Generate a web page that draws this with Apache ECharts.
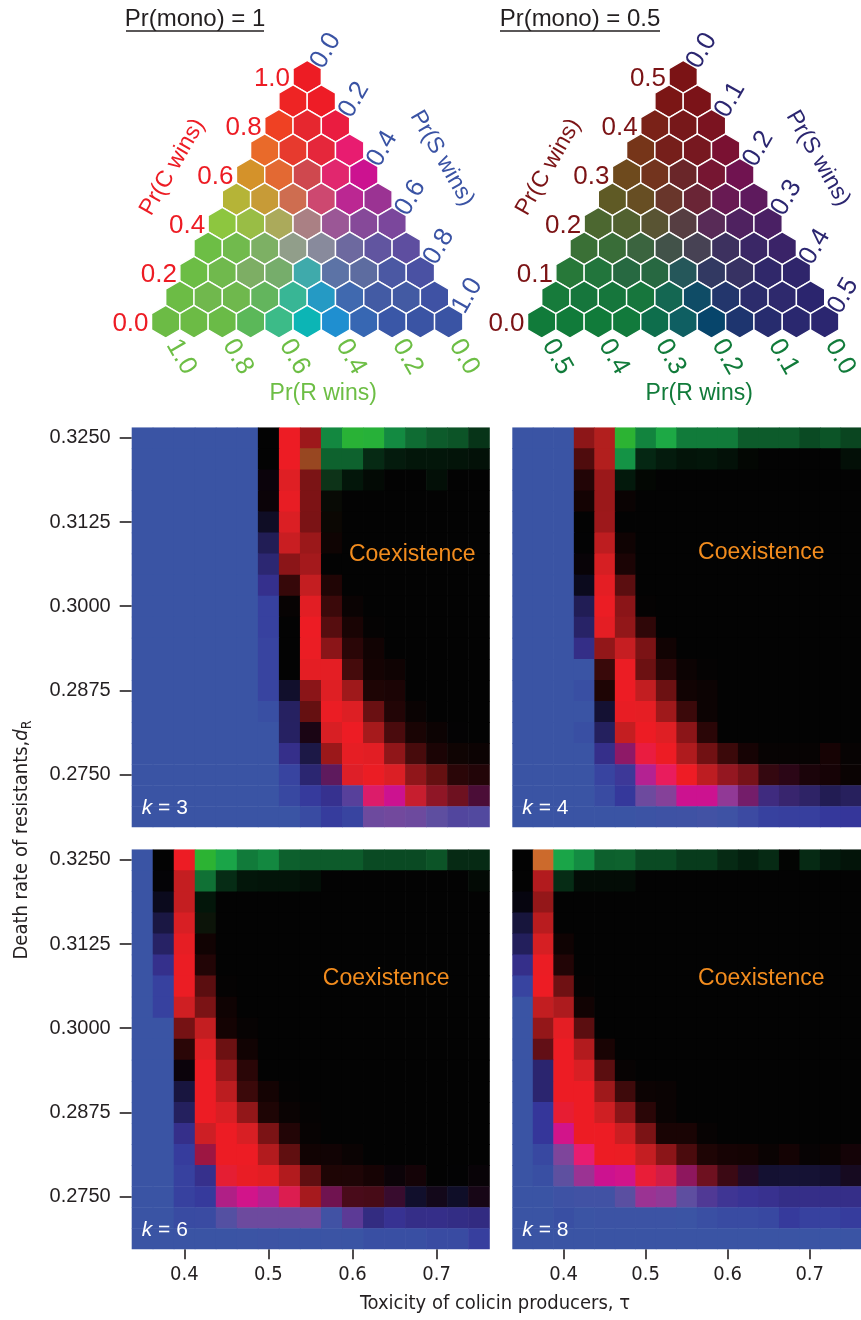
<!DOCTYPE html>
<html>
<head>
<meta charset="utf-8">
<script src="https://cdn.jsdelivr.net/npm/echarts@6/dist/echarts.min.js"></script>
<style>
  html, body { margin: 0; padding: 0; background: #ffffff; }
  #chart { width: 861px; height: 1320px; }
</style>
</head>
<body>
<div id="chart"></div>
<script>
// ---------------------------------------------------------------------------
// Parameter grid of the simulations
// ---------------------------------------------------------------------------
const tauValues = [0.350, 0.375, 0.400, 0.425, 0.450, 0.475, 0.500, 0.525, 0.550,
                   0.575, 0.600, 0.625, 0.650, 0.675, 0.700, 0.725, 0.750];
const deathValues = [0.325000, 0.321875, 0.318750, 0.315625, 0.312500, 0.309375,
                     0.306250, 0.303125, 0.300000, 0.296875, 0.293750, 0.290625,
                     0.287500, 0.284375, 0.281250, 0.278125, 0.275000, 0.271875, 0.268750];
const tauTicks = [0.4, 0.5, 0.6, 0.7];
const deathTicks = [0.2750, 0.2875, 0.3000, 0.3125, 0.3250];
const kValues = [3, 4, 6, 8];

// Ternary colour key
const ternarySteps = [0, 0.1, 0.2, 0.3, 0.4, 0.5, 0.6, 0.7, 0.8, 0.9, 1.0];
const ternaryTicks = [0, 0.2, 0.4, 0.6, 0.8, 1.0];
const monoLevels = [1, 0.5];

// ---------------------------------------------------------------------------
// Outcome probabilities (percent), rows from d_R = 0.325 (top) downwards,
// columns from tau = 0.35 (left) to 0.75.  C = colicin producer wins,
// R = resistant wins, S = sensitive wins; the remainder is coexistence.
// ---------------------------------------------------------------------------
const k3C = [
  [0,0,0,0,0,0,0,100,65,0,0,0,0,0,0,0,0],
  [0,0,0,0,0,0,0,100,45,0,0,0,0,0,0,0,0],
  [0,0,0,0,0,0,3,94,48,3,0,0,0,0,0,0,0],
  [0,0,0,0,0,0,3,98,51,2,0,0,0,0,0,0,0],
  [0,0,0,0,0,0,2,92,50,3,0,0,0,0,0,0,0],
  [0,0,0,0,0,0,0,84,64,5,0,0,0,0,0,0,0],
  [0,0,0,0,0,0,0,57,68,1,0,0,0,0,0,0,0],
  [0,0,0,0,0,0,0,22,82,13,0,0,0,0,0,0,0],
  [0,0,0,0,0,0,0,3,95,24,4,0,0,0,0,0,0],
  [0,0,0,0,0,0,0,0,100,35,10,2,0,0,0,0,0],
  [0,0,0,0,0,0,0,0,99,57,17,7,0,0,0,0,0],
  [0,0,0,0,0,0,0,0,96,96,28,8,6,0,0,0,0],
  [0,0,0,0,0,0,0,2,57,94,66,12,11,0,0,0,0],
  [0,0,0,0,0,0,0,3,41,99,93,43,14,4,0,0,0],
  [0,0,0,0,0,0,0,2,7,91,100,69,30,10,5,1,0],
  [0,0,0,0,0,0,0,0,3,64,97,95,59,29,11,5,5],
  [0,0,0,0,0,0,0,0,0,25,84,99,90,56,41,16,12],
  [0,0,0,0,0,0,0,0,0,0,28,66,60,70,47,35,20],
  [0,0,0,0,0,0,0,0,0,0,3,35,37,35,30,25,25]
];
const k3R = [
  [0,0,0,0,0,0,0,0,0,60,93,92,62,44,37,34,21],
  [0,0,0,0,0,0,0,0,20,40,40,17,11,9,9,8,7],
  [0,0,0,0,0,0,0,0,2,18,9,4,0,0,6,0,0],
  [0,0,0,0,0,0,0,0,0,3,0,0,0,0,0,0,0],
  [0,0,0,0,0,0,0,0,0,2,0,0,0,0,0,0,0],
  [0,0,0,0,0,0,0,0,0,1,0,0,0,0,0,0,0],
  [0,0,0,0,0,0,0,0,0,0,0,0,0,0,0,0,0],
  [0,0,0,0,0,0,0,0,0,0,0,0,0,0,0,0,0],
  [0,0,0,0,0,0,0,0,0,0,0,0,0,0,0,0,0],
  [0,0,0,0,0,0,0,0,0,0,0,0,0,0,0,0,0],
  [0,0,0,0,0,0,0,0,0,0,0,0,0,0,0,0,0],
  [0,0,0,0,0,0,0,0,0,0,0,0,0,0,0,0,0],
  [0,0,0,0,0,0,0,0,0,0,0,0,0,0,0,0,0],
  [0,0,0,0,0,0,0,0,0,0,0,0,0,0,0,0,0],
  [0,0,0,0,0,0,0,0,0,0,0,0,0,0,0,0,0],
  [0,0,0,0,0,0,0,0,0,0,0,0,0,0,0,1,0],
  [0,0,0,0,0,0,0,0,0,0,0,0,0,0,0,0,0],
  [0,0,0,0,0,0,0,0,0,0,0,0,0,0,0,0,0],
  [0,0,0,0,0,0,0,0,0,0,0,0,0,0,0,0,0]
];
const k3S = [
  [100,100,100,100,100,100,0,0,0,0,0,0,0,0,0,0,0],
  [100,100,100,100,100,100,0,0,0,0,0,0,0,0,0,0,0],
  [100,100,100,100,100,100,3,0,0,0,0,0,0,0,0,0,0],
  [100,100,100,100,100,100,2,0,0,0,0,0,0,0,0,0,0],
  [100,100,100,100,100,100,15,0,0,0,0,0,0,0,0,0,0],
  [100,100,100,100,100,100,38,0,0,0,0,0,0,0,0,0,0],
  [100,100,100,100,100,100,52,0,0,0,0,0,0,0,0,0,0],
  [100,100,100,100,100,100,78,0,0,0,0,0,0,0,0,0,0],
  [100,100,100,100,100,100,95,0,0,0,0,0,0,0,0,0,0],
  [100,100,100,100,100,100,95,0,0,0,0,0,0,0,0,0,0],
  [100,100,100,100,100,100,96,0,0,0,0,0,0,0,0,0,0],
  [100,100,100,100,100,100,96,0,0,0,0,0,0,0,0,0,0],
  [100,100,100,100,100,100,96,18,0,0,0,0,0,0,0,0,0],
  [100,100,100,100,100,100,99,41,0,0,0,0,0,0,0,0,0],
  [100,100,100,100,100,100,100,42,5,0,0,0,0,0,0,1,0],
  [100,100,100,100,100,100,100,75,29,0,0,0,0,0,0,0,0],
  [100,100,100,100,100,100,100,96,51,25,9,0,2,3,0,1,2],
  [100,100,100,100,100,100,100,97,92,80,67,30,40,14,12,10,14],
  [100,100,100,100,100,100,100,100,98,93,93,65,63,65,70,72,73]
];

const k4C = [
  [0,0,0,58,68,0,0,0,0,0,0,0,0,0,0,0,0],
  [0,0,0,32,68,0,0,0,0,0,0,0,0,0,0,0,0],
  [0,0,0,14,64,0,0,0,0,0,0,0,0,0,0,0,0],
  [0,0,0,8,64,4,0,0,0,0,0,0,0,0,0,0,0],
  [0,0,0,0,65,0,0,0,0,0,0,0,0,0,0,0,0],
  [0,0,0,0,79,6,0,0,0,0,0,0,0,0,0,0,0],
  [0,0,0,2,90,11,0,0,0,0,0,0,0,0,0,0,0],
  [0,0,0,1,96,37,0,0,0,0,0,0,0,0,0,0,0],
  [0,0,0,0,99,57,2,0,0,0,0,0,0,0,0,0,0],
  [0,0,0,0,96,60,19,0,0,0,0,0,0,0,0,0,0],
  [0,0,0,0,60,83,50,7,0,0,0,0,0,0,0,0,0],
  [0,0,0,0,23,99,44,17,5,2,0,0,0,0,0,0,0],
  [0,0,0,0,12,100,81,44,7,5,0,0,0,0,0,0,0],
  [0,0,0,0,2,98,97,66,24,5,0,0,0,0,0,0,0],
  [0,0,0,0,0,82,100,94,57,17,1,0,0,0,0,0,0],
  [0,0,0,0,0,40,80,100,73,46,24,9,3,3,3,8,3],
  [0,0,0,0,0,15,55,74,95,76,52,42,16,12,8,7,3],
  [0,0,0,0,0,0,35,43,60,60,47,33,17,14,10,5,7],
  [0,0,0,0,0,0,3,8,10,13,8,8,0,0,0,0,0]
];
const k4R = [
  [0,0,0,0,6,94,57,86,50,50,50,37,37,37,30,34,28],
  [0,0,0,0,6,69,16,11,8,9,7,3,0,0,0,0,6],
  [0,0,0,0,0,10,3,0,0,0,0,0,0,0,0,0,0],
  [0,0,0,0,0,0,0,0,0,0,0,0,0,0,0,0,0],
  [0,0,0,0,0,0,0,0,0,0,0,0,0,0,0,0,0],
  [0,0,0,0,0,0,0,0,0,0,0,0,0,0,0,0,0],
  [0,0,0,0,0,0,0,0,0,0,0,0,0,0,0,0,0],
  [0,0,0,0,0,0,0,0,0,0,0,0,0,0,0,0,0],
  [0,0,0,0,0,0,0,0,0,0,0,0,0,0,0,0,0],
  [0,0,0,0,0,0,0,0,0,0,0,0,0,0,0,0,0],
  [0,0,0,0,0,0,0,0,0,0,0,0,0,0,0,0,0],
  [0,0,0,0,0,0,0,0,0,0,0,0,0,0,0,0,0],
  [0,0,0,0,0,0,0,0,0,0,0,0,0,0,0,0,0],
  [0,0,0,0,0,0,0,0,0,0,0,0,0,0,0,0,0],
  [0,0,0,0,0,0,0,0,0,0,0,0,0,0,0,0,0],
  [0,0,0,0,0,0,0,0,0,0,0,0,0,0,0,0,0],
  [0,0,0,0,0,0,0,0,0,0,0,0,0,0,0,0,0],
  [0,0,0,0,0,0,0,0,0,0,0,0,0,0,0,0,0],
  [0,0,0,0,0,0,0,0,0,0,0,0,0,0,0,0,0]
];
const k4S = [
  [100,100,100,0,0,0,0,0,0,0,0,0,0,0,0,0,0],
  [100,100,100,0,0,0,0,0,0,0,0,0,0,0,0,0,0],
  [100,100,100,0,0,0,0,0,0,0,0,0,0,0,0,0,0],
  [100,100,100,0,0,0,0,0,0,0,0,0,0,0,0,0,0],
  [100,100,100,0,0,0,0,0,0,0,0,0,0,0,0,0,0],
  [100,100,100,2,0,0,0,0,0,0,0,0,0,0,0,0,0],
  [100,100,100,2,0,0,0,0,0,0,0,0,0,0,0,0,0],
  [100,100,100,12,0,0,0,0,0,0,0,0,0,0,0,0,0],
  [100,100,100,38,0,0,0,0,0,0,0,0,0,0,0,0,0],
  [100,100,100,46,0,0,0,0,0,0,0,0,0,0,0,0,0],
  [100,100,100,72,0,0,0,0,0,0,0,0,0,0,0,0,0],
  [100,100,100,100,0,0,0,0,0,0,0,0,0,0,0,0,0],
  [100,100,100,99,0,0,0,0,0,0,0,0,0,0,0,0,0],
  [100,100,100,100,21,0,0,0,0,0,0,0,0,0,0,0,0],
  [100,100,100,99,42,0,0,0,0,0,0,0,0,0,0,0,0],
  [100,100,100,100,75,27,20,0,0,0,0,0,0,0,0,1,0],
  [100,100,100,100,96,75,45,26,5,3,9,6,5,6,3,2,1],
  [100,100,100,100,98,91,65,57,40,40,53,30,52,40,38,33,36],
  [100,100,100,100,100,100,97,92,90,87,92,90,95,94,94,91,90]
];

const k6C = [
  [0,0,100,0,0,0,0,0,0,0,0,0,0,0,0,0,0],
  [0,1,82,0,0,0,0,0,0,0,0,0,0,0,0,0,0],
  [0,1,82,0,0,0,0,0,0,0,0,0,0,0,0,0,0],
  [0,0,91,3,0,0,0,0,0,0,0,0,0,0,0,0,0],
  [0,0,97,7,0,0,0,0,0,0,0,0,0,0,0,0,0],
  [0,0,99,14,0,0,0,0,0,0,0,0,0,0,0,0,0],
  [0,0,99,37,2,0,0,0,0,0,0,0,0,0,0,0,0],
  [0,0,87,50,6,0,0,0,0,0,0,0,0,0,0,0,0],
  [0,0,48,82,8,3,0,0,0,0,0,0,0,0,0,0,0],
  [0,0,17,94,44,7,0,0,0,0,0,0,0,0,0,0,0],
  [0,0,3,100,62,17,0,0,0,0,0,0,0,0,0,0,0],
  [0,0,0,100,78,24,8,2,0,0,0,0,0,0,0,0,0],
  [0,0,0,100,90,60,12,4,2,0,0,0,0,0,0,0,0],
  [0,0,0,82,100,91,50,14,3,0,0,0,0,0,0,0,0],
  [0,0,0,46,100,100,74,39,7,6,3,0,0,0,0,0,0],
  [0,0,0,6,82,95,95,74,38,12,11,8,3,6,0,0,2],
  [0,0,0,0,52,62,55,70,67,30,22,22,15,2,5,0,6],
  [0,0,0,2,25,35,35,35,37,12,30,8,8,6,5,3,5],
  [0,0,0,0,0,2,3,2,0,2,1,0,0,0,0,0,0]
];
const k6R = [
  [0,0,0,94,83,50,60,39,37,37,37,30,30,30,34,17,17],
  [0,0,0,46,18,9,8,8,6,0,0,0,0,0,0,0,4],
  [0,0,0,9,0,0,0,0,0,0,0,0,0,0,0,0,0],
  [0,0,0,6,0,0,0,0,0,0,0,0,0,0,0,0,0],
  [0,0,0,0,0,0,0,0,0,0,0,0,0,0,0,0,0],
  [0,0,0,0,0,0,0,0,0,0,0,0,0,0,0,0,0],
  [0,0,0,0,0,0,0,0,0,0,0,0,0,0,0,0,0],
  [0,0,0,0,0,0,0,0,0,0,0,0,0,0,0,0,0],
  [0,0,0,0,0,0,0,0,0,0,0,0,0,0,0,0,0],
  [0,0,0,0,0,0,0,0,0,0,0,0,0,0,0,0,0],
  [0,0,0,0,0,0,0,0,0,0,0,0,0,0,0,0,0],
  [0,0,0,0,0,0,0,0,0,0,0,0,0,0,0,0,0],
  [0,0,0,0,0,0,0,0,0,0,0,0,0,0,0,0,0],
  [0,0,0,0,0,0,0,0,0,0,0,0,0,0,0,0,0],
  [0,0,0,0,0,0,0,0,0,0,0,0,0,0,0,0,0],
  [0,0,0,0,0,0,0,0,0,0,0,0,0,0,0,0,0],
  [0,0,0,0,0,0,0,0,0,0,0,0,0,0,0,0,0],
  [0,0,0,0,0,0,0,0,0,0,0,0,0,0,0,0,0],
  [0,0,0,0,0,0,0,0,0,0,0,0,0,0,0,0,0]
];
const k6S = [
  [100,0,0,0,0,0,0,0,0,0,0,0,0,0,0,0,0],
  [100,2,0,0,0,0,0,0,0,0,0,0,0,0,0,0,0],
  [100,12,0,0,0,0,0,0,0,0,0,0,0,0,0,0,0],
  [100,30,0,0,0,0,0,0,0,0,0,0,0,0,0,0,0],
  [100,45,0,0,0,0,0,0,0,0,0,0,0,0,0,0,0],
  [100,77,0,0,0,0,0,0,0,0,0,0,0,0,0,0,0],
  [100,95,0,0,0,0,0,0,0,0,0,0,0,0,0,0,0],
  [100,95,0,0,0,0,0,0,0,0,0,0,0,0,0,0,0],
  [100,100,0,0,0,0,0,0,0,0,0,0,0,0,0,0,0],
  [100,100,0,0,0,0,0,0,0,0,0,0,0,0,0,0,0],
  [100,100,3,0,0,0,0,0,0,0,0,0,0,0,0,0,0],
  [100,100,28,0,0,0,0,0,0,0,0,0,0,0,0,0,0],
  [100,100,42,0,1,0,0,0,0,0,0,0,0,0,0,0,0],
  [100,100,75,4,0,0,0,0,0,0,0,0,0,0,0,0,0],
  [100,100,93,20,0,0,0,0,0,1,1,0,0,0,0,0,0],
  [100,100,95,72,15,3,0,0,1,0,1,1,2,2,1,2,2],
  [100,100,95,92,38,38,42,24,2,20,8,7,12,18,8,18,6],
  [100,100,98,96,75,65,65,65,63,88,62,60,75,68,70,68,62],
  [100,100,100,100,100,98,97,98,100,98,99,99,99,99,98,98,94]
];

const k8C = [
  [0,60,0,0,0,0,0,0,0,0,0,0,0,0,0,0,0],
  [0,74,0,0,0,0,0,0,0,0,0,0,0,0,0,0,0],
  [1,61,0,0,0,0,0,0,0,0,0,0,0,0,0,0,0],
  [0,77,0,0,0,0,0,0,0,0,0,0,0,0,0,0,0],
  [0,90,6,0,0,0,0,0,0,0,0,0,0,0,0,0,0],
  [0,99,14,0,0,0,0,0,0,0,0,0,0,0,0,0,0],
  [0,100,45,2,0,0,0,0,0,0,0,0,0,0,0,0,0],
  [0,81,72,7,0,0,0,0,0,0,0,0,0,0,0,0,0],
  [0,61,96,37,1,0,0,0,0,0,0,0,0,0,0,0,0],
  [0,34,100,74,10,0,0,0,0,0,0,0,0,0,0,0,0],
  [0,3,100,91,37,3,0,0,0,0,0,0,0,0,0,0,0],
  [0,3,100,100,66,25,5,4,0,0,0,0,0,0,0,0,0],
  [0,0,83,100,87,57,17,4,0,0,0,0,0,0,0,0,0],
  [0,0,62,100,100,85,50,10,10,3,0,0,0,0,0,0,0],
  [0,0,41,70,100,99,81,57,30,12,9,8,3,7,2,3,6],
  [0,0,30,50,60,62,82,67,40,35,18,9,3,3,3,3,6],
  [0,0,8,12,12,28,50,47,30,25,16,10,9,6,6,6,6],
  [0,0,0,2,3,3,3,3,2,2,1,1,0,0,0,0,0],
  [0,0,0,0,0,0,0,0,0,0,0,0,0,0,0,0,0]
];
const k8R = [
  [0,30,83,63,39,40,30,30,24,24,17,13,17,2,17,11,8],
  [0,0,18,5,5,5,0,0,0,0,0,0,0,0,0,0,0],
  [0,0,0,0,0,0,0,0,0,0,0,0,0,0,0,0,0],
  [0,0,0,0,0,0,0,0,0,0,0,0,0,0,0,0,0],
  [0,0,0,0,0,0,0,0,0,0,0,0,0,0,0,0,0],
  [0,0,0,0,0,0,0,0,0,0,0,0,0,0,0,0,0],
  [0,0,0,0,0,0,0,0,0,0,0,0,0,0,0,0,0],
  [0,0,0,0,0,0,0,0,0,0,0,0,0,0,0,0,0],
  [0,0,0,0,0,0,0,0,0,0,0,0,0,0,0,0,0],
  [0,0,0,0,0,0,0,0,0,0,0,0,0,0,0,0,0],
  [0,0,0,0,0,0,0,0,0,0,0,0,0,0,0,0,0],
  [0,0,0,0,0,0,0,0,0,0,0,0,0,0,0,0,0],
  [0,0,0,0,0,0,0,0,0,0,0,0,0,0,0,0,0],
  [0,0,0,0,0,0,0,0,0,0,0,0,0,0,0,0,0],
  [0,0,0,0,0,0,0,0,0,0,0,0,0,0,0,0,0],
  [0,0,5,0,0,0,0,0,0,0,0,0,0,0,0,0,0],
  [0,0,0,0,0,0,0,0,0,0,0,0,0,0,0,0,0],
  [0,0,0,0,0,0,0,0,0,0,0,0,0,0,0,0,0],
  [0,0,0,0,0,0,0,0,0,0,0,0,0,0,0,0,0]
];
const k8S = [
  [0,0,0,0,0,0,0,0,0,0,0,0,0,0,0,0,0],
  [1,0,0,0,0,0,0,0,0,0,0,0,0,0,0,0,0],
  [6,0,0,0,0,0,0,0,0,0,0,0,0,0,0,0,0],
  [27,0,0,0,0,0,0,0,0,0,0,0,0,0,0,0,0],
  [41,0,0,0,0,0,0,0,0,0,0,0,0,0,0,0,0],
  [75,0,0,0,0,0,0,0,0,0,0,0,0,0,0,0,0],
  [96,0,0,0,0,0,0,0,0,0,0,0,0,0,0,0,0],
  [100,0,0,0,0,0,0,0,0,0,0,0,0,0,0,0,0],
  [100,0,0,0,0,0,0,0,0,0,0,0,0,0,0,0,0],
  [100,6,0,0,0,0,0,0,0,0,0,0,0,0,0,0,0],
  [100,47,0,0,0,0,0,0,0,0,0,0,0,0,0,0,0],
  [100,47,0,0,0,0,0,0,0,0,0,0,0,0,0,0,0],
  [100,90,15,0,0,0,0,0,0,0,0,0,0,0,0,0,0],
  [100,90,38,0,0,0,0,0,0,0,0,0,0,0,0,0,0],
  [100,97,59,30,0,0,1,0,0,0,0,0,1,1,1,1,2],
  [100,99,65,50,40,38,17,22,25,10,6,10,20,21,21,19,10],
  [100,100,92,88,88,72,50,53,70,65,70,75,72,67,68,67,68],
  [100,100,99,98,97,97,97,97,98,97,97,97,97,92,95,95,93],
  [100,100,100,100,100,100,100,100,100,100,100,100,100,100,100,100,100]
];

const panelC = [k3C, k4C, k6C, k8C];
const panelR = [k3R, k4R, k6R, k8R];
const panelS = [k3S, k4S, k6S, k8S];

// Where the "Coexistence" annotation sits in each panel (tau, d_R)
const coexistenceTau = [0.671, 0.641, 0.640, 0.641];
const coexistenceDeath = [0.3077, 0.3080, 0.3073, 0.3073];

// ---------------------------------------------------------------------------
// Styling
// ---------------------------------------------------------------------------
const SANS = "'Liberation Sans', Arial, Helvetica, sans-serif";
const NARROW = "'Liberation Sans Narrow', 'DejaVu Sans Condensed', 'Liberation Sans', sans-serif";
const INK = '#231F20';
const SQ3 = Math.sqrt(3);

// Ternary colour scheme: edge colours at tenths along each edge plus a centre
// colour, for full monoculture probability and for probability one half.
const LEVELS = {
  full: {
    center: '#9A979A',
    cr: ['#ED1C24','#EE2424','#EF4123','#E96A2A','#D4922A','#B5B437','#8DC63F','#6DBE45','#6CBD45','#6CBC45','#6CBB45'],
    rs: ['#6CBB45','#6CBB45','#6ABB47','#5BB859','#3CBB88','#0CB5B5','#1F8FD0','#3767B3','#3A57A7','#3A54A4','#3A54A4'],
    sc: ['#3A54A4','#3F52A4','#4A51A3','#5E4EA0','#7B479C','#9B3393','#CC1290','#E81C70','#EA1C40','#EE1C26','#ED1C24']
  },
  half: {
    center: '#4D484D',
    cr: ['#7B1315','#7B1615','#7A2218','#763519','#6E4A1D','#5F5A25','#4C6730','#3A7036','#277839','#177B3B','#117B3A'],
    rs: ['#117B3A','#117B3A','#117B3A','#127A3C','#0E6E4C','#0F5F62','#07456B','#1E356F','#272C6E','#2A286F','#2B2670'],
    sc: ['#2B2670','#2B256E','#2F256B','#3A2368','#4A2064','#5E1A5D','#701350','#7A1132','#7B1320','#7B1318','#7B1315']
  }
};
const KEY_TEXT = [
  { c: '#ED1C24', s: '#3A53A4', r: '#6DBE45' },
  { c: '#7B1315', s: '#2B2670', r: '#117B3A' }
];

function hexRgb(h) {
  const n = parseInt(h.slice(1), 16);
  return [(n >> 16) & 255, (n >> 8) & 255, n & 255];
}
function mix(a, b, t) {
  return [a[0] + (b[0] - a[0]) * t, a[1] + (b[1] - a[1]) * t, a[2] + (b[2] - a[2]) * t];
}
function edgeAt(list, t) {
  const x = Math.max(0, Math.min(1, t)) * (list.length - 1);
  const i = Math.min(Math.floor(x), list.length - 2);
  return mix(hexRgb(list[i]), hexRgb(list[i + 1]), x - i);
}
// colour of a normalised outcome q = [C, R, S] at one monoculture level
function levelColor(L, q) {
  const m = Math.min(q[0], q[1], q[2]);
  const rr = Math.max(0, Math.min(1, 1 - 3 * m));
  const center = hexRgb(L.center);
  if (rr < 1e-6) return center;
  const k = 1 / rr;
  const qb = q.map(v => Math.max(0, 1 / 3 + (v - 1 / 3) * k));
  const idx = q.indexOf(m);
  let edge;
  if (idx === 2) edge = edgeAt(L.cr, qb[1] / (qb[0] + qb[1]));
  else if (idx === 0) edge = edgeAt(L.rs, qb[2] / (qb[1] + qb[2]));
  else edge = edgeAt(L.sc, qb[0] / (qb[0] + qb[2]));
  return mix(center, edge, 1 - Math.pow(1 - rr, 2));
}
function rgb2hsv(c) {
  const r = c[0] / 255, g = c[1] / 255, b = c[2] / 255;
  const mx = Math.max(r, g, b), mn = Math.min(r, g, b), d = mx - mn;
  let h = 0;
  if (d > 0) {
    if (mx === r) h = ((g - b) / d) % 6;
    else if (mx === g) h = (b - r) / d + 2;
    else h = (r - g) / d + 4;
    h *= 60;
    if (h < 0) h += 360;
  }
  return [h, mx > 0 ? d / mx : 0, mx];
}
function hsv2rgb(h, s, v) {
  const c = v * s, x = c * (1 - Math.abs((h / 60) % 2 - 1)), m = v - c;
  let r = 0, g = 0, b = 0;
  if (h < 60) { r = c; g = x; }
  else if (h < 120) { r = x; g = c; }
  else if (h < 180) { g = c; b = x; }
  else if (h < 240) { g = x; b = c; }
  else if (h < 300) { r = x; b = c; }
  else { r = c; b = x; }
  return [(r + m) * 255, (g + m) * 255, (b + m) * 255];
}
// colour for outcome probabilities (fractions); the remainder is coexistence (black)
function outcomeColor(c, r, s) {
  const sum = c + r + s;
  if (sum <= 0.001) return 'rgb(3,3,3)';
  const T = Math.min(1, sum);
  const q = [c / sum, r / sum, s / sum];
  const half = levelColor(LEVELS.half, q);
  let rgb;
  if (T <= 0.5) {
    rgb = half.map(v => v * T / 0.5);
  } else {
    const full = levelColor(LEVELS.full, q);
    const w = (T - 0.5) / 0.5;
    const a = rgb2hsv(half), b = rgb2hsv(full);
    const wh = Math.pow(w, 6);
    let dh = b[0] - a[0];
    if (dh > 180) dh -= 360;
    if (dh < -180) dh += 360;
    const h = (a[0] + dh * wh + 360) % 360;
    const sat = a[1] + (b[1] - a[1]) * wh;
    const val = a[2] + (b[2] - a[2]) * w;
    rgb = hsv2rgb(h, sat, val);
  }
  rgb = rgb.map(v => Math.max(3, Math.min(255, Math.round(v))));
  return 'rgb(' + rgb.join(',') + ')';
}

// ---------------------------------------------------------------------------
// Layout
// ---------------------------------------------------------------------------
const keyGrids = [
  { left: 165.7, top: 76.7, width: 283, height: 245 },
  { left: 541.7, top: 76.7, width: 283, height: 245 }
];
const panelGrids = [
  { left: 131.7, top: 427.3, width: 357.5, height: 400 },
  { left: 512.3, top: 427.3, width: 357.5, height: 400 },
  { left: 131.7, top: 849.3, width: 357.5, height: 400 },
  { left: 512.3, top: 849.3, width: 357.5, height: 400 }
];
const showTauAxis = [false, false, true, true];
const showDeathAxis = [true, false, true, false];

const tauStep = tauValues[1] - tauValues[0];
const deathStep = deathValues[0] - deathValues[1];

// ---------------------------------------------------------------------------
// Series builders
// ---------------------------------------------------------------------------
function ternaryHexData(mono) {
  const out = [];
  const n = ternarySteps.length - 1;
  for (let i = 0; i <= n; i++) {
    const C = ternarySteps[n - i];
    for (let j = 0; j <= i; j++) {
      const S = ternarySteps[j];
      const R = Math.max(0, 1 - C - S);
      const pc = C * mono, pr = R * mono, ps = S * mono;
      out.push([ps + pc / 2, pc * SQ3 / 2, pc, pr, ps]);
    }
  }
  return out;
}

function hexSeries(idx) {
  const mono = monoLevels[idx];
  return {
    type: 'custom',
    xAxisIndex: idx, yAxisIndex: idx,
    data: ternaryHexData(mono),
    silent: true,
    renderItem: function (params, api) {
      const p = api.coord([api.value(0), api.value(1)]);
      const rad = api.size([ternarySteps[1] * mono, 0])[0] / SQ3;
      const pts = [];
      for (let k = 0; k < 6; k++) {
        const a = Math.PI / 180 * (-90 + 60 * k);
        pts.push([p[0] + rad * Math.cos(a), p[1] + rad * Math.sin(a)]);
      }
      return {
        type: 'polygon',
        shape: { points: pts },
        style: {
          fill: outcomeColor(api.value(2), api.value(3), api.value(4)),
          stroke: '#ffffff', lineWidth: 1.4
        }
      };
    }
  };
}

function keyLabelSeries(idx) {
  const mono = monoLevels[idx];
  const col = KEY_TEXT[idx];
  const items = [];
  ternaryTicks.forEach(v => {
    const txt = (v * mono).toFixed(1);
    // Pr(C wins) along the left edge
    items.push({ value: [v * mono / 2, v * mono * SQ3 / 2], txt, kind: 'c' });
    // Pr(S wins) along the right edge
    items.push({ value: [(v + (1 - v) / 2) * mono, (1 - v) * mono * SQ3 / 2], txt, kind: 's' });
    // Pr(R wins) along the bottom edge
    items.push({ value: [(1 - v) * mono, 0], txt, kind: 'r' });
  });
  items.push({ value: [0.25 * mono, 0.5 * mono * SQ3 / 2], txt: 'Pr(C wins)', kind: 'ct' });
  items.push({ value: [0.75 * mono, 0.5 * mono * SQ3 / 2], txt: 'Pr(S wins)', kind: 'st' });
  items.push({ value: [0.5 * mono, 0], txt: 'Pr(R wins)', kind: 'rt' });

  return {
    type: 'custom',
    xAxisIndex: idx, yAxisIndex: idx,
    data: items.map(d => d.value),
    silent: true,
    renderItem: function (params, api) {
      const it = items[params.dataIndex];
      const p = api.coord([api.value(0), api.value(1)]);
      const half = api.size([ternarySteps[1] * mono, 0])[0] / 2;
      let x = p[0], y = p[1], rot = 0, align = 'center', fill = col.c, size = 26;
      if (it.kind === 'c') { x -= half + 3; y += 2; align = 'right'; }
      else if (it.kind === 's') { x += 18.5; y -= 26; rot = Math.PI / 3; fill = col.s; }
      else if (it.kind === 'r') { x += 15.5; y += 35; rot = -Math.PI / 3; fill = col.r; }
      else if (it.kind === 'ct') { x -= 64; y -= 32; rot = Math.PI / 3; size = 23; }
      else if (it.kind === 'st') { x += 64; y -= 41; rot = -Math.PI / 3; fill = col.s; size = 23; }
      else { x += 16; y += 72; fill = col.r; size = 23; }
      return {
        type: 'text', x, y, rotation: rot,
        style: {
          text: it.txt, fill, fontSize: size, fontFamily: SANS,
          align, verticalAlign: 'middle'
        }
      };
    }
  };
}

function panelSeries(pi) {
  const C = panelC[pi], R = panelR[pi], S = panelS[pi];
  const data = [];
  deathValues.forEach((d, ri) => {
    tauValues.forEach((t, ci) => {
      data.push([t, d, C[ri][ci], R[ri][ci], S[ri][ci]]);
    });
  });
  return {
    type: 'custom',
    xAxisIndex: pi + 2, yAxisIndex: pi + 2,
    data,
    clip: true,
    silent: true,
    renderItem: function (params, api) {
      const p = api.coord([api.value(0), api.value(1)]);
      const sz = api.size([tauStep, deathStep]);
      return {
        type: 'rect',
        shape: { x: p[0] - sz[0] / 2, y: p[1] - sz[1] / 2, width: sz[0] + 0.6, height: sz[1] + 0.6 },
        style: { fill: outcomeColor(api.value(2) / 100, api.value(3) / 100, api.value(4) / 100) }
      };
    }
  };
}

function annotationSeries(pi) {
  return {
    type: 'custom',
    xAxisIndex: pi + 2, yAxisIndex: pi + 2,
    data: [[coexistenceTau[pi], coexistenceDeath[pi]]],
    silent: true,
    z: 5,
    renderItem: function (params, api) {
      const p = api.coord([api.value(0), api.value(1)]);
      const cs = params.coordSys;
      return {
        type: 'group',
        children: [
          {
            type: 'text', x: p[0], y: p[1],
            style: { text: 'Coexistence', fill: '#F28C1E', fontSize: 23, fontFamily: SANS, align: 'center', verticalAlign: 'middle' }
          },
          {
            type: 'text', x: cs.x + 10, y: cs.y + cs.height - 19,
            style: {
              text: '{i|k} = ' + kValues[pi],
              fill: '#ffffff', fontSize: 21, fontFamily: SANS,
              align: 'left', verticalAlign: 'middle',
              rich: { i: { fontStyle: 'italic', fontSize: 21, fontFamily: SANS, fill: '#ffffff' } }
            }
          }
        ]
      };
    }
  };
}

// ---------------------------------------------------------------------------
// Axes
// ---------------------------------------------------------------------------
const grids = keyGrids.concat(panelGrids);
const xAxes = [], yAxes = [];
monoLevels.forEach((m, i) => {
  xAxes.push({ gridIndex: i, type: 'value', min: 0, max: m, show: false });
  yAxes.push({ gridIndex: i, type: 'value', min: 0, max: m * SQ3 / 2, show: false });
});
panelGrids.forEach((g, i) => {
  xAxes.push({
    gridIndex: i + 2, type: 'value',
    min: tauValues[0] - tauStep / 2, max: tauValues[tauValues.length - 1] + tauStep / 2,
    axisLine: { show: false }, splitLine: { show: false },
    axisTick: { show: showTauAxis[i], customValues: tauTicks, length: 10, lineStyle: { color: INK, width: 1.6 } },
    axisLabel: {
      show: showTauAxis[i], customValues: tauTicks, margin: 15,
      formatter: v => v.toFixed(1), color: INK, fontSize: 20, fontFamily: NARROW
    }
  });
  yAxes.push({
    gridIndex: i + 2, type: 'value',
    min: deathValues[deathValues.length - 1] - deathStep / 2, max: deathValues[0] + deathStep / 2,
    axisLine: { show: false }, splitLine: { show: false },
    axisTick: { show: showDeathAxis[i], customValues: deathTicks, length: 12, lineStyle: { color: INK, width: 1.6 } },
    axisLabel: {
      show: showDeathAxis[i], customValues: deathTicks, margin: 21,
      formatter: v => v.toFixed(4), color: INK, fontSize: 20, fontFamily: SANS
    }
  });
});

const series = [];
monoLevels.forEach((m, i) => { series.push(hexSeries(i)); series.push(keyLabelSeries(i)); });
panelGrids.forEach((g, i) => { series.push(panelSeries(i)); series.push(annotationSeries(i)); });

const chart = echarts.init(document.getElementById('chart'), null, { renderer: 'canvas', width: 861, height: 1320 });
chart.setOption({
  backgroundColor: '#ffffff',
  animation: false,
  grid: grids,
  xAxis: xAxes,
  yAxis: yAxes,
  series,
  graphic: [
    { type: 'text', x: 195, y: 19, style: { text: 'Pr(mono) = 1', fill: INK, fontSize: 24, fontFamily: SANS, align: 'center', verticalAlign: 'middle' } },
    { type: 'line', shape: { x1: 126, y1: 31, x2: 264, y2: 31 }, style: { stroke: INK, lineWidth: 1.6 } },
    { type: 'text', x: 580, y: 19, style: { text: 'Pr(mono) = 0.5', fill: INK, fontSize: 24, fontFamily: SANS, align: 'center', verticalAlign: 'middle' } },
    { type: 'line', shape: { x1: 500, y1: 31, x2: 660, y2: 31 }, style: { stroke: INK, lineWidth: 1.6 } },
    {
      type: 'text', x: 495, y: 1304,
      style: { text: 'Toxicity of colicin producers, \u03C4', fill: INK, fontSize: 20, fontFamily: NARROW, align: 'center', verticalAlign: 'middle' }
    },
    {
      type: 'text', x: 22, y: 840, rotation: Math.PI / 2,
      style: {
        text: '{a|Death rate of resistants,}{d|d}{s|R}',
        align: 'center', verticalAlign: 'middle',
        rich: {
          a: { fill: INK, fontSize: 20, fontFamily: NARROW, lineHeight: 24, verticalAlign: 'middle' },
          d: { fill: INK, fontSize: 20, fontFamily: NARROW, fontStyle: 'italic', lineHeight: 24, verticalAlign: 'middle' },
          s: { fill: INK, fontSize: 14, fontFamily: NARROW, verticalAlign: 'bottom' }
        }
      }
    }
  ]
});
</script>
</body>
</html>
